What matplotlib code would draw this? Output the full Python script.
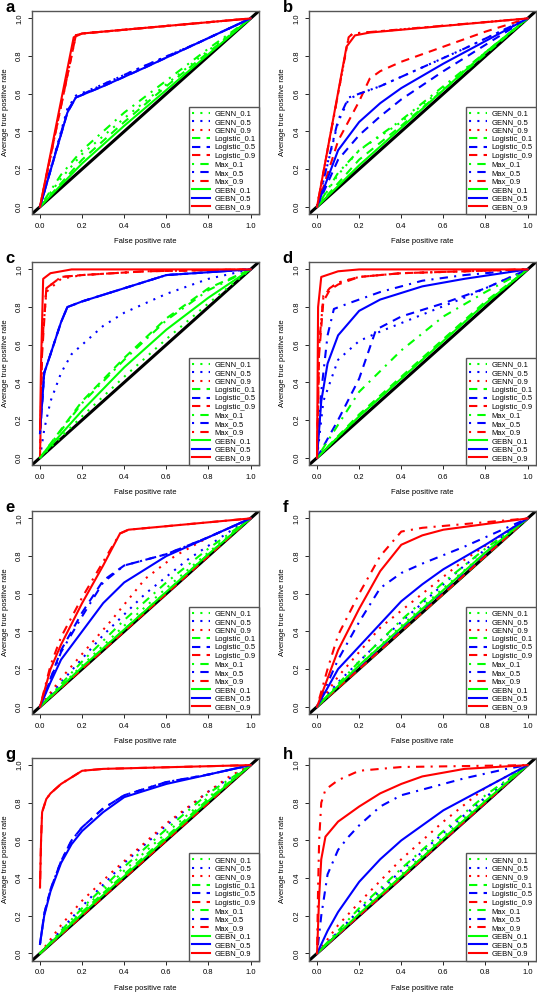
import matplotlib
matplotlib.use("Agg")
import matplotlib.pyplot as plt

plt.rcParams["font.family"] = ["Liberation Sans", "DejaVu Sans"]

# series names, in legend order
series = ["GENN_0.1", "GENN_0.5", "GENN_0.9",
          "Logistic_0.1", "Logistic_0.5", "Logistic_0.9",
          "Max_0.1", "Max_0.5", "Max_0.9",
          "GEBN_0.1", "GEBN_0.5", "GEBN_0.9"]
panel_letters = ["a", "b", "c", "d", "e", "f", "g", "h"]

# ROC points (false positive rate, average true positive rate)
panel_a = {
    "GENN_0.1": ([0, 0.1, 0.2, 0.4, 0.6, 0.8, 1], [0, 0.15, 0.28, 0.47, 0.65, 0.83, 1]),
    "GENN_0.5": ([0, 0.13, 0.17, 0.3, 0.5, 0.75, 1], [0, 0.52, 0.59, 0.65, 0.75, 0.87, 1]),
    "GENN_0.9": ([0, 0.17, 0.2, 1], [0, 0.91, 0.92, 1]),
    "Logistic_0.1": ([0, 0.2, 0.4, 0.6, 0.8, 1], [0, 0.25, 0.45, 0.64, 0.82, 1]),
    "Logistic_0.5": ([0, 0.13, 0.17, 0.3, 0.5, 0.75, 1], [0, 0.5, 0.58, 0.64, 0.74, 0.87, 1]),
    "Logistic_0.9": ([0, 0.17, 0.2, 1], [0, 0.91, 0.92, 1]),
    "Max_0.1": ([0, 0.1, 0.2, 0.4, 0.6, 0.8, 1], [0, 0.17, 0.3, 0.5, 0.67, 0.84, 1]),
    "Max_0.5": ([0, 0.13, 0.17, 0.3, 0.5, 0.75, 1], [0, 0.51, 0.58, 0.65, 0.75, 0.87, 1]),
    "Max_0.9": ([0, 0.17, 0.2, 1], [0, 0.91, 0.92, 1]),
    "GEBN_0.1": ([0, 0.2, 0.4, 0.6, 0.8, 1], [0, 0.23, 0.43, 0.62, 0.81, 1]),
    "GEBN_0.5": ([0, 0.13, 0.17, 0.3, 0.5, 0.75, 1], [0, 0.5, 0.58, 0.64, 0.74, 0.87, 1]),
    "GEBN_0.9": ([0, 0.16, 0.2, 1], [0, 0.9, 0.92, 1]),
}
panel_b = {
    "GENN_0.1": ([0, 0.1, 0.2, 0.4, 0.6, 0.8, 1], [0, 0.17, 0.3, 0.45, 0.63, 0.82, 1]),
    "GENN_0.5": ([0, 0.1, 0.15, 0.2, 0.3, 0.5, 0.7, 1], [0, 0.45, 0.57, 0.6, 0.64, 0.74, 0.84, 1]),
    "GENN_0.9": ([0, 0.15, 0.17, 1], [0, 0.9, 0.92, 1]),
    "Logistic_0.1": ([0, 0.2, 0.4, 0.6, 0.8, 1], [0, 0.25, 0.43, 0.62, 0.81, 1]),
    "Logistic_0.5": ([0, 0.1, 0.2, 0.3, 0.4, 0.6, 0.8, 1], [0, 0.25, 0.38, 0.48, 0.57, 0.72, 0.86, 1]),
    "Logistic_0.9": ([0, 0.1, 0.2, 0.25, 0.3, 0.4, 0.6, 0.8, 1], [0, 0.35, 0.56, 0.68, 0.72, 0.77, 0.85, 0.93, 1]),
    "Max_0.1": ([0, 0.1, 0.2, 0.4, 0.6, 0.8, 1], [0, 0.18, 0.3, 0.46, 0.64, 0.82, 1]),
    "Max_0.5": ([0, 0.1, 0.15, 0.2, 0.3, 0.5, 0.7, 1], [0, 0.46, 0.58, 0.6, 0.64, 0.74, 0.84, 1]),
    "Max_0.9": ([0, 0.15, 0.17, 1], [0, 0.9, 0.92, 1]),
    "GEBN_0.1": ([0, 0.2, 0.4, 0.6, 0.8, 1], [0, 0.22, 0.42, 0.62, 0.82, 1]),
    "GEBN_0.5": ([0, 0.1, 0.2, 0.3, 0.4, 0.6, 0.8, 1], [0, 0.3, 0.45, 0.55, 0.63, 0.76, 0.88, 1]),
    "GEBN_0.9": ([0, 0.14, 0.18, 0.25, 1], [0, 0.85, 0.91, 0.925, 1]),
}
panel_c = {
    "GENN_0.1": ([0, 0.2, 0.4, 0.6, 0.8, 1], [0, 0.22, 0.43, 0.63, 0.82, 1]),
    "GENN_0.5": ([0, 0.02, 0.05, 0.1, 0.15, 0.2, 0.3, 0.4, 0.6, 0.8, 1], [0, 0.15, 0.3, 0.45, 0.55, 0.6, 0.7, 0.77, 0.87, 0.95, 1]),
    "GENN_0.9": ([0, 0.01, 0.03, 0.1, 0.2, 0.5, 1], [0, 0.6, 0.88, 0.95, 0.97, 0.99, 1]),
    "Logistic_0.1": ([0, 0.2, 0.4, 0.6, 0.8, 1], [0, 0.3, 0.53, 0.74, 0.9, 1]),
    "Logistic_0.5": ([0, 0.02, 0.05, 0.1, 0.13, 0.2, 0.4, 0.6, 1], [0.13, 0.45, 0.55, 0.72, 0.8, 0.83, 0.9, 0.97, 1]),
    "Logistic_0.9": ([0, 0.01, 0.03, 0.1, 0.2, 0.5, 1], [0, 0.55, 0.9, 0.96, 0.97, 0.99, 1]),
    "Max_0.1": ([0, 0.2, 0.4, 0.6, 0.8, 1], [0, 0.29, 0.52, 0.73, 0.89, 1]),
    "Max_0.5": ([0, 0.02, 0.05, 0.1, 0.13, 0.2, 0.4, 0.6, 1], [0.13, 0.45, 0.55, 0.72, 0.8, 0.83, 0.9, 0.97, 1]),
    "Max_0.9": ([0, 0.01, 0.03, 0.1, 0.2, 0.5, 1], [0, 0.6, 0.9, 0.96, 0.97, 0.99, 1]),
    "GEBN_0.1": ([0, 0.2, 0.4, 0.6, 0.8, 1], [0, 0.25, 0.48, 0.68, 0.85, 1]),
    "GEBN_0.5": ([0, 0.02, 0.05, 0.1, 0.13, 0.2, 0.4, 0.6, 1], [0.13, 0.45, 0.55, 0.72, 0.8, 0.83, 0.9, 0.97, 1]),
    "GEBN_0.9": ([0, 0.005, 0.015, 0.05, 0.15, 1], [0.15, 0.5, 0.95, 0.98, 1, 1]),
}
panel_d = {
    "GENN_0.1": ([0, 0.2, 0.4, 0.6, 0.8, 1], [0, 0.22, 0.42, 0.62, 0.82, 1]),
    "GENN_0.5": ([0, 0.03, 0.1, 0.2, 0.3, 0.5, 0.7, 1], [0, 0.3, 0.52, 0.62, 0.67, 0.76, 0.85, 1]),
    "GENN_0.9": ([0, 0.01, 0.03, 0.06, 0.1, 0.2, 0.4, 1], [0, 0.6, 0.85, 0.9, 0.93, 0.96, 0.98, 1]),
    "Logistic_0.1": ([0, 0.2, 0.4, 0.6, 0.8, 1], [0, 0.23, 0.43, 0.63, 0.83, 1]),
    "Logistic_0.5": ([0, 0.1, 0.2, 0.28, 0.4, 0.6, 0.8, 1], [0, 0.2, 0.42, 0.68, 0.75, 0.82, 0.9, 1]),
    "Logistic_0.9": ([0, 0.01, 0.03, 0.06, 0.1, 0.2, 0.4, 1], [0, 0.55, 0.83, 0.89, 0.92, 0.96, 0.98, 1]),
    "Max_0.1": ([0, 0.2, 0.4, 0.6, 0.8, 1], [0, 0.35, 0.57, 0.75, 0.88, 1]),
    "Max_0.5": ([0, 0.02, 0.05, 0.08, 0.15, 0.3, 0.5, 0.7, 1], [0, 0.35, 0.65, 0.79, 0.82, 0.88, 0.94, 0.97, 1]),
    "Max_0.9": ([0, 0.01, 0.03, 0.06, 0.1, 0.2, 0.4, 1], [0, 0.6, 0.86, 0.9, 0.93, 0.96, 0.98, 1]),
    "GEBN_0.1": ([0, 0.2, 0.4, 0.6, 0.8, 1], [0, 0.22, 0.42, 0.62, 0.82, 1]),
    "GEBN_0.5": ([0, 0.02, 0.05, 0.1, 0.2, 0.3, 0.5, 0.7, 1], [0, 0.3, 0.5, 0.65, 0.78, 0.84, 0.91, 0.95, 1]),
    "GEBN_0.9": ([0, 0.005, 0.02, 0.1, 0.2, 1], [0, 0.8, 0.96, 0.99, 1, 1]),
}
panel_e = {
    "GENN_0.1": ([0, 0.2, 0.4, 0.6, 0.8, 1], [0, 0.22, 0.43, 0.63, 0.82, 1]),
    "GENN_0.5": ([0, 0.1, 0.3, 0.5, 0.7, 0.9, 1], [0, 0.13, 0.38, 0.6, 0.78, 0.93, 1]),
    "GENN_0.9": ([0, 0.1, 0.2, 0.34, 0.5, 0.64, 0.8, 1], [0, 0.15, 0.28, 0.46, 0.68, 0.8, 0.9, 1]),
    "Logistic_0.1": ([0, 0.2, 0.4, 0.6, 0.8, 1], [0, 0.21, 0.41, 0.61, 0.81, 1]),
    "Logistic_0.5": ([0, 0.1, 0.2, 0.3, 0.4, 0.5, 0.6, 0.8, 1], [0, 0.3, 0.5, 0.67, 0.75, 0.78, 0.81, 0.9, 1]),
    "Logistic_0.9": ([0, 0.5, 1], [0, 0.5, 1]),
    "Max_0.1": ([0, 0.2, 0.4, 0.6, 0.8, 1], [0, 0.24, 0.46, 0.66, 0.84, 1]),
    "Max_0.5": ([0, 0.1, 0.2, 0.3, 0.4, 0.5, 0.6, 0.8, 1], [0, 0.29, 0.48, 0.66, 0.75, 0.78, 0.81, 0.9, 1]),
    "Max_0.9": ([0, 0.05, 0.1, 0.2, 0.3, 0.38, 0.42, 1], [0, 0.22, 0.37, 0.58, 0.77, 0.92, 0.94, 1]),
    "GEBN_0.1": ([0, 0.2, 0.4, 0.6, 0.8, 1], [0, 0.21, 0.41, 0.61, 0.81, 1]),
    "GEBN_0.5": ([0, 0.05, 0.1, 0.2, 0.3, 0.4, 0.5, 0.6, 0.8, 1], [0, 0.13, 0.25, 0.4, 0.55, 0.66, 0.73, 0.8, 0.9, 1]),
    "GEBN_0.9": ([0, 0.05, 0.1, 0.2, 0.3, 0.38, 0.42, 1], [0, 0.2, 0.33, 0.55, 0.75, 0.92, 0.94, 1]),
}
panel_f = {
    "GENN_0.1": ([0, 0.2, 0.4, 0.6, 0.8, 1], [0, 0.22, 0.43, 0.63, 0.82, 1]),
    "GENN_0.5": ([0, 0.1, 0.3, 0.5, 0.7, 0.9, 1], [0, 0.13, 0.35, 0.55, 0.75, 0.92, 1]),
    "GENN_0.9": ([0, 0.1, 0.3, 0.5, 0.7, 0.9, 1], [0, 0.16, 0.42, 0.6, 0.78, 0.93, 1]),
    "Logistic_0.1": ([0, 0.5, 1], [0, 0.5, 1]),
    "Logistic_0.5": ([0, 0.5, 1], [0, 0.51, 1]),
    "Logistic_0.9": ([0, 0.5, 1], [0, 0.5, 1]),
    "Max_0.1": ([0, 0.2, 0.4, 0.6, 0.8, 1], [0, 0.24, 0.46, 0.66, 0.84, 1]),
    "Max_0.5": ([0, 0.1, 0.2, 0.3, 0.4, 0.5, 0.7, 0.9, 1], [0, 0.25, 0.45, 0.63, 0.71, 0.76, 0.85, 0.95, 1]),
    "Max_0.9": ([0, 0.05, 0.1, 0.2, 0.3, 0.4, 0.5, 1], [0, 0.2, 0.38, 0.6, 0.8, 0.93, 0.95, 1]),
    "GEBN_0.1": ([0, 0.2, 0.4, 0.6, 0.8, 1], [0, 0.22, 0.42, 0.62, 0.82, 1]),
    "GEBN_0.5": ([0, 0.1, 0.2, 0.3, 0.4, 0.5, 0.6, 0.8, 1], [0, 0.2, 0.32, 0.44, 0.56, 0.65, 0.73, 0.86, 1]),
    "GEBN_0.9": ([0, 0.05, 0.1, 0.2, 0.3, 0.4, 0.5, 0.6, 1], [0, 0.15, 0.3, 0.52, 0.72, 0.86, 0.91, 0.94, 1]),
}
panel_g = {
    "GENN_0.1": ([0, 0.2, 0.4, 0.6, 0.8, 1], [0, 0.23, 0.44, 0.64, 0.83, 1]),
    "GENN_0.5": ([0, 0.2, 0.4, 0.6, 0.8, 1], [0, 0.25, 0.48, 0.68, 0.86, 1]),
    "GENN_0.9": ([0, 0.1, 0.2, 0.34, 0.6, 0.8, 0.9, 1], [0, 0.15, 0.28, 0.43, 0.69, 0.86, 0.94, 1]),
    "Logistic_0.1": ([0, 0.2, 0.4, 0.6, 0.8, 1], [0, 0.22, 0.42, 0.62, 0.82, 1]),
    "Logistic_0.5": ([0, 0.02, 0.05, 0.1, 0.15, 0.2, 0.3, 0.4, 0.6, 0.8, 1], [0.05, 0.21, 0.34, 0.49, 0.6, 0.67, 0.77, 0.84, 0.91, 0.95, 1]),
    "Logistic_0.9": ([0, 0.5, 1], [0, 0.5, 1]),
    "Max_0.1": ([0, 0.2, 0.4, 0.6, 0.8, 1], [0, 0.24, 0.46, 0.66, 0.85, 1]),
    "Max_0.5": ([0, 0.02, 0.05, 0.1, 0.15, 0.2, 0.3, 0.4, 0.6, 0.8, 1], [0.05, 0.21, 0.34, 0.49, 0.6, 0.67, 0.77, 0.84, 0.91, 0.95, 1]),
    "Max_0.9": ([0, 0.005, 0.01, 0.03, 0.05, 0.1, 0.2, 0.3, 1], [0.35, 0.6, 0.75, 0.82, 0.85, 0.9, 0.97, 0.98, 1]),
    "GEBN_0.1": ([0, 0.2, 0.4, 0.6, 0.8, 1], [0, 0.21, 0.41, 0.61, 0.81, 1]),
    "GEBN_0.5": ([0, 0.02, 0.05, 0.1, 0.15, 0.2, 0.3, 0.4, 0.6, 0.8, 1], [0.05, 0.2, 0.33, 0.48, 0.58, 0.65, 0.75, 0.83, 0.9, 0.95, 1]),
    "GEBN_0.9": ([0, 0.005, 0.01, 0.03, 0.05, 0.1, 0.2, 0.3, 1], [0.35, 0.6, 0.75, 0.82, 0.85, 0.9, 0.97, 0.98, 1]),
}
panel_h = {
    "GENN_0.1": ([0, 0.2, 0.4, 0.6, 0.8, 1], [0, 0.22, 0.42, 0.62, 0.82, 1]),
    "GENN_0.5": ([0, 0.2, 0.4, 0.6, 0.8, 1], [0, 0.23, 0.44, 0.64, 0.83, 1]),
    "GENN_0.9": ([0, 0.1, 0.2, 0.4, 0.6, 0.8, 1], [0, 0.15, 0.27, 0.5, 0.7, 0.88, 1]),
    "Logistic_0.1": ([0, 0.5, 1], [0, 0.51, 1]),
    "Logistic_0.5": ([0, 0.5, 1], [0, 0.5, 1]),
    "Logistic_0.9": ([0, 0.5, 1], [0, 0.5, 1]),
    "Max_0.1": ([0, 0.2, 0.4, 0.6, 0.8, 1], [0, 0.24, 0.45, 0.65, 0.84, 1]),
    "Max_0.5": ([0, 0.02, 0.05, 0.1, 0.15, 0.2, 0.3, 0.4, 0.5, 0.7, 0.9, 1], [0, 0.2, 0.42, 0.55, 0.62, 0.68, 0.78, 0.84, 0.87, 0.93, 0.98, 1]),
    "Max_0.9": ([0, 0.005, 0.01, 0.02, 0.04, 0.1, 0.2, 0.4, 1], [0, 0.35, 0.6, 0.8, 0.87, 0.92, 0.97, 0.99, 1]),
    "GEBN_0.1": ([0, 0.2, 0.4, 0.6, 0.8, 1], [0, 0.21, 0.41, 0.61, 0.81, 1]),
    "GEBN_0.5": ([0, 0.05, 0.1, 0.2, 0.3, 0.4, 0.5, 0.6, 0.8, 1], [0, 0.12, 0.22, 0.38, 0.5, 0.6, 0.68, 0.76, 0.88, 1]),
    "GEBN_0.9": ([0, 0.01, 0.02, 0.04, 0.1, 0.2, 0.3, 0.4, 0.5, 0.7, 1], [0, 0.3, 0.5, 0.62, 0.7, 0.78, 0.85, 0.9, 0.94, 0.98, 1]),
}
panels = [panel_a, panel_b, panel_c, panel_d, panel_e, panel_f, panel_g, panel_h]

# styles
colors = {"0.1": "#00ff00", "0.5": "#0000ff", "0.9": "#ff0000"}
dashes = {"GENN": (0, (1, 3)), "Logistic": (0, (4, 3)),
          "Max": (0, (1, 3, 4, 3)), "GEBN": "solid"}

fig = plt.figure(figsize=(5.37, 9.92), dpi=100)
lefts = [0.0588, 0.5747]
bottoms = [0.784, 0.531, 0.280, 0.0313]
tick_text = ["0.0", "0.2", "0.4", "0.6", "0.8", "1.0"]

for i, data in enumerate(panels):
    row, col = divmod(i, 2)
    ax = fig.add_axes([lefts[col], bottoms[row], 0.4235, 0.205])
    ax.plot([-0.1, 1.1], [-0.1, 1.1], color="black", lw=2.2, zorder=1)
    for name in series:
        method, level = name.split("_")
        x, y = data[name]
        ax.plot(x, y, color=colors[level], linestyle=dashes[method], lw=1.5,
                label=name, zorder=2)
    ax.set_xlim(-0.04, 1.04)
    ax.set_ylim(-0.04, 1.04)
    ticks = [0, 0.2, 0.4, 0.6, 0.8, 1.0]
    ax.set_xticks(ticks)
    ax.set_yticks(ticks)
    ax.set_xticklabels(tick_text, fontsize=5.5)
    ax.set_yticklabels(tick_text, fontsize=5.5, rotation=90, va="center")
    ax.tick_params(length=3, width=0.6, pad=3)
    ax.set_xlabel("False positive rate", fontsize=5.5, labelpad=6)
    ax.set_ylabel("Average true positive rate", fontsize=5.5, labelpad=5)
    for s in ax.spines.values():
        s.set_color("#555555")
        s.set_linewidth(1.0)
    leg = ax.legend(loc="lower right", fontsize=5.5, borderaxespad=0,
                    handlelength=2.3, handletextpad=0.6, labelspacing=0.15,
                    fancybox=False, borderpad=0.45, framealpha=1)
    leg.get_frame().set_edgecolor("#555555")
    leg.get_frame().set_linewidth(1.0)
    ax.text(-0.115, 1.015, panel_letters[i], transform=ax.transAxes,
            fontsize=12, fontweight="bold", va="center", ha="left")

fig.savefig("out.png", dpi=100)
